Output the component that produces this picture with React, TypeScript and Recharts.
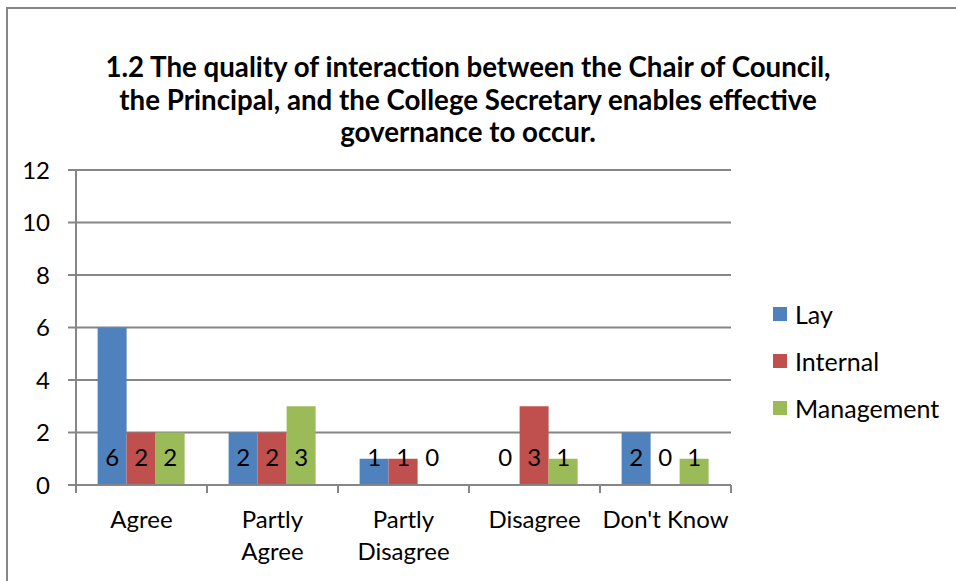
import React from "react"
import { BarChart, Bar, XAxis, YAxis, CartesianGrid, Legend, LabelList } from "recharts"

const categories = ["Agree", "Partly Agree", "Partly Disagree", "Disagree", "Don't Know"]
const tickLines = [["Agree"], ["Partly", "Agree"], ["Partly", "Disagree"], ["Disagree"], ["Don't Know"]]
const lay = [6, 2, 1, 0, 2]
const internal = [2, 2, 1, 3, 0]
const management = [2, 3, 0, 1, 1]
const yTicks = [0, 2, 4, 6, 8, 10, 12]
const titleLines = [
  "1.2 The quality of interaction between the Chair of Council,",
  "the Principal, and the College Secretary enables effective",
  "governance to occur.",
]

const series = [
  { key: "lay", name: "Lay", color: "#4F81BD" },
  { key: "internal", name: "Internal", color: "#C0504D" },
  { key: "management", name: "Management", color: "#9BBB59" },
]

const data = categories.map((c, i) => ({
  name: c,
  lay: lay[i],
  internal: internal[i],
  management: management[i],
}))

const FONT = "Lato, 'Noto Sans', sans-serif"
const GRID = "#868686"
const HALF_BAND = (731 - 76) / 5 / 2

function CategoryTick(props: any) {
  const { x, y, index } = props
  const lines = tickLines[index] || []
  return (
    <g>
      <line x1={x - HALF_BAND} x2={x - HALF_BAND} y1={y} y2={y + 8} stroke={GRID} strokeWidth={2} />
      <line x1={x + HALF_BAND} x2={x + HALF_BAND} y1={y} y2={y + 8} stroke={GRID} strokeWidth={2} />
      {lines.map((l, i) => (
        <text key={i} x={x} y={y + 43 + i * 32} textAnchor="middle" fontSize={24} fill="#000" fontFamily={FONT}>
          {l}
        </text>
      ))}
    </g>
  )
}

function BarValue(props: any) {
  const { x, y, width, height, value } = props
  return (
    <text
      x={Number(x) + Number(width) / 2}
      y={Number(y) + Number(height) - 19}
      textAnchor="middle"
      fontSize={24}
      fill="#000"
      fontFamily={FONT}
    >
      {String(value)}
    </text>
  )
}

function LegendBox() {
  return (
    <div style={{ fontFamily: FONT, fontSize: 25 }}>
      {series.map((s) => (
        <div key={s.key} style={{ display: "flex", alignItems: "center", height: 47 }}>
          <span style={{ width: 14, height: 14, background: s.color, display: "inline-block", marginRight: 8 }} />
          <span>{s.name}</span>
        </div>
      ))}
    </div>
  )
}

export default function App() {
  return (
    <div style={{ position: "absolute", left: 0, top: 0, width: 956, height: 581, overflow: "hidden", background: "#fff" }}>
      <div style={{ position: "absolute", left: 6, top: 7, width: 980, height: 600, border: `2px solid ${GRID}` }} />
      <div
        style={{
          position: "absolute",
          left: 0,
          top: 51,
          width: 936,
          textAlign: "center",
          fontFamily: FONT,
          fontWeight: "bold",
          fontSize: 27.7,
          lineHeight: "32.5px",
        }}
      >
        {titleLines.map((t, i) => (
          <div key={i}>{t}</div>
        ))}
      </div>
      <BarChart
        width={956}
        height={581}
        data={data}
        margin={{ top: 170, right: 225, bottom: 6, left: 16 }}
        barCategoryGap="16.5%"
        barGap={0}
        style={{ position: "absolute", left: 0, top: 0 }}
      >
        <CartesianGrid vertical={false} stroke={GRID} strokeWidth={2} />
        <XAxis
          dataKey="name"
          height={90}
          axisLine={{ stroke: GRID, strokeWidth: 2 }}
          tickLine={false}
          tickSize={0}
          tickMargin={0}
          interval={0}
          tick={<CategoryTick />}
        />
        <YAxis
          domain={[0, 12]}
          ticks={yTicks}
          interval={0}
          width={60}
          axisLine={{ stroke: GRID, strokeWidth: 2 }}
          tickLine={{ stroke: GRID, strokeWidth: 2 }}
          tickSize={8}
          tickMargin={18}
          tick={{ fontSize: 24, fill: "#000", fontFamily: FONT }}
        />
        <Legend
          layout="horizontal"
          align="center"
          verticalAlign="middle"
          content={<LegendBox />}
          wrapperStyle={{ position: "absolute", left: 773, top: 290, width: 180 }}
        />
        {series.map((s) => (
          <Bar
            key={s.key}
            dataKey={s.key}
            name={s.name}
            fill={s.color}
            minPointSize={0.01}
            isAnimationActive={false}
          >
            <LabelList dataKey={s.key} content={<BarValue />} />
          </Bar>
        ))}
      </BarChart>
    </div>
  )
}
